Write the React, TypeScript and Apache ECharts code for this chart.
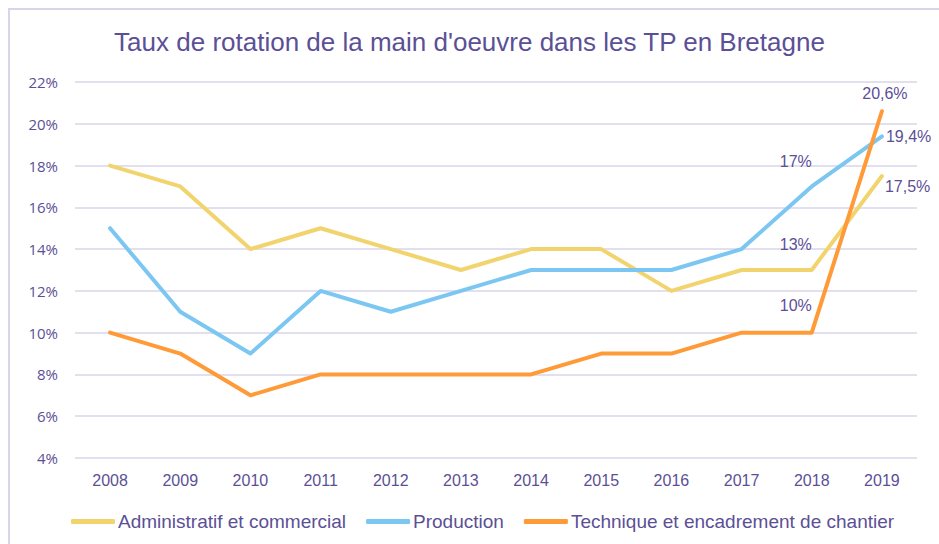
import React, { useEffect, useRef } from "react";
import * as echarts from "echarts";

const years = ["2008", "2009", "2010", "2011", "2012", "2013", "2014", "2015", "2016", "2017", "2018", "2019"];
const admin = [18, 17, 14, 15, 14, 13, 14, 14, 12, 13, 13, 17.5];
const production = [15, 11, 9, 12, 11, 12, 13, 13, 13, 14, 17, 19.4];
const technique = [10, 9, 7, 8, 8, 8, 8, 9, 9, 10, 10, 20.6];
const seriesNames = ["Administratif et commercial", "Production", "Technique et encadrement de chantier"];
const colors = ["#F2D46F", "#7CC6F2", "#FF9A38"];

const TXT = "#5B5096";
const SANS = "'Liberation Sans', Arial, sans-serif";

const fmt = (v: number) => String(v).replace(".", ",") + "%";

// label placement for labelled points: index -> position/offset
const seriesLabels: Record<number, { position: any; offset: number[] }>[] = [
  { 10: { position: "top", offset: [-16, -12] }, 11: { position: "right", offset: [-2, 10] } },
  { 10: { position: "top", offset: [-16, -12] }, 11: { position: "right", offset: [-1, 0] } },
  { 10: { position: "top", offset: [-16, -14] }, 11: { position: "top", offset: [3, -5] } },
];

function buildData(values: number[], idx: number) {
  return values.map((v, i) => {
    const l = seriesLabels[idx][i];
    if (!l) return { value: v };
    return {
      value: v,
      label: {
        show: true,
        position: l.position,
        offset: l.offset,
        formatter: (p: any) => fmt(p.value),
        color: TXT,
        fontSize: 16,
        fontFamily: SANS,
      },
    };
  });
}

export default function App() {
  const ref = useRef<HTMLDivElement>(null);
  useEffect(() => {
    if (!ref.current) return;
    const chart = echarts.init(ref.current, undefined, { renderer: "svg" });
    const all = [admin, production, technique];
    chart.setOption({
      animation: false,
      backgroundColor: "#ffffff",
      title: {
        text: "Taux de rotation de la main d'oeuvre dans les TP en Bretagne",
        left: "center",
        top: 24,
        textStyle: { color: TXT, fontSize: 26, fontWeight: "normal", fontFamily: SANS },
      },
      graphic: [
        {
          type: "rect",
          shape: { x: 9, y: 9, width: 1000, height: 700 },
          style: { fill: "none", stroke: "#D8D4EA", lineWidth: 2 },
          silent: true,
        },
      ],
      grid: { left: 75, right: 22, top: 82, bottom: 86, containLabel: false },
      legend: {
        bottom: 8,
        left: 66,
        icon: "roundRect",
        itemWidth: 44,
        itemHeight: 5,
        itemGap: 20,
        textStyle: { color: TXT, fontSize: 19, fontFamily: SANS, padding: [0, 0, 0, -2] },
        data: seriesNames,
      },
      xAxis: {
        type: "category",
        data: years,
        boundaryGap: true,
        axisLine: { show: false },
        axisTick: { show: false },
        axisLabel: { color: TXT, fontSize: 16, fontFamily: SANS, margin: 14 },
      },
      yAxis: {
        type: "value",
        min: 4,
        max: 22,
        interval: 2,
        axisLine: { show: false },
        axisTick: { show: false },
        axisLabel: {
          color: TXT,
          fontSize: 15,
          fontFamily: "'Open Sans', 'Noto Sans', sans-serif",
          margin: 17,
          formatter: "{value}%",
        },
        splitLine: { lineStyle: { color: "#D9D5EA", width: 1.5 } },
      },
      series: all.map((vals, i) => ({
        name: seriesNames[i],
        type: "line",
        data: buildData(vals, i),
        symbol: "circle",
        symbolSize: 0.1,
        showSymbol: true,
        emphasis: { disabled: true },
        lineStyle: { color: colors[i], width: 4, cap: "round", join: "round" },
        itemStyle: { color: colors[i] },
        z: 2 + i,
      })),
    });
    return () => chart.dispose();
  }, []);
  return (
    <div
      ref={ref}
      style={{ position: "fixed", left: 0, top: 0, width: 939, height: 544 }}
    />
  );
}
